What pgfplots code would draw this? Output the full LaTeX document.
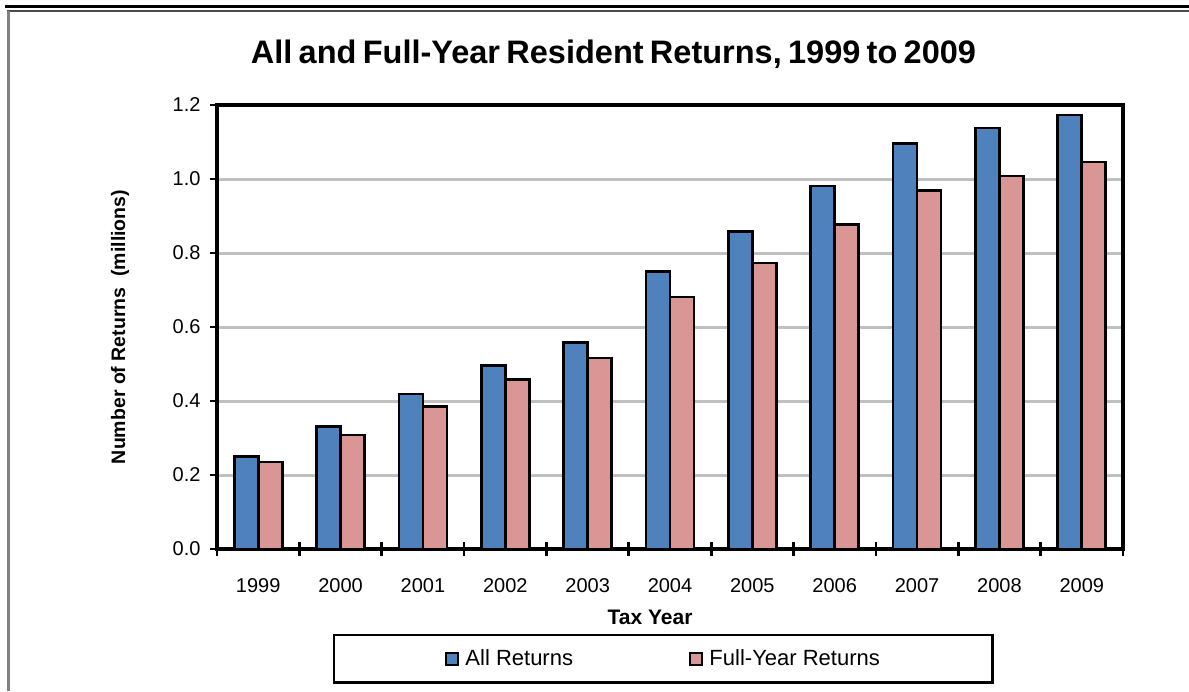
\documentclass[border=0pt]{standalone}
\usepackage{pgfplots}
\pgfplotsset{compat=1.18}
\usepackage{fontspec}
\setmainfont{Liberation Sans}
\newfontfamily\titlefont[WordSpace=0.7]{Liberation Sans}
\definecolor{barblue}{RGB}{79,129,189}
\definecolor{barpink}{RGB}{217,150,148}
\definecolor{gridgray}{RGB}{192,192,192}
\begin{document}
\begin{tikzpicture}
\path[use as bounding box] (0pt,0pt) rectangle (1189pt,-691pt);
\fill[white] (0pt,0pt) rectangle (1189pt,-691pt);
\draw[black, line width=3pt] (5pt,-6.5pt) -- (1189pt,-6.5pt);
\draw[black!70, line width=2.5pt] (7pt,-11pt) -- (1189pt,-11pt);
\draw[gray, line width=2.5pt] (8.5pt,-11pt) -- (8.5pt,-691pt);
\begin{axis}[
  at={(217pt,-549pt)}, anchor=south west,
  scale only axis, width=906pt, height=444pt,
  xmin=-0.5, xmax=10.5, ymin=0, ymax=1.2,
  ybar, bar width=24pt,
  ytick={0,0.2,0.4,0.6,0.8,1.0,1.2},
  ymajorgrids, major grid style={gridgray, line width=3pt},
  axis line style={black, line width=3.2pt},
  xtick pos=left, ytick pos=left,
  tick align=outside, major tick length=7pt,
  ytick style={black, line width=2.8pt},
  xtick={0,1,2,3,4,5,6,7,8,9,10},
  xticklabels={1999,2000,2001,2002,2003,2004,2005,2006,2007,2008,2009},
  xtick style={draw=none},
  extra x ticks={-0.5,0.5,1.5,2.5,3.5,4.5,5.5,6.5,7.5,8.5,9.5,10.5},
  extra x tick labels={},
  extra x tick style={tick align=center, major tick length=14pt, xtick style={draw=black, line width=2.8pt}, grid=none},
  /pgf/number format/.cd, fixed, fixed zerofill, precision=1, assume math mode=true, /pgfplots/.cd,
  ticklabel style={font=\fontsize{20}{24}\selectfont},
  xticklabel style={anchor=center, yshift=-30pt},
  yticklabel style={anchor=east, xshift=-6pt},
  title={All and Full-Year Resident Returns, 1999 to 2009},
  title style={font=\titlefont\fontsize{32.5}{38}\selectfont\bfseries, at={(axis description cs:0.4376,1.1014)}, anchor=center},
  xlabel={Tax Year},
  xlabel style={font=\fontsize{21}{24}\selectfont\bfseries, at={(axis description cs:0.478,-0.153)}, anchor=center},
  ylabel={Number of Returns \ (millions)},
  ylabel style={font=\fontsize{19.5}{22}\selectfont\bfseries, at={(axis description cs:-0.107,0.5)}, anchor=center, rotate=0},
  legend columns=2,
  legend style={at={(axis description cs:0.4928,-0.247)}, anchor=center, draw=black, line width=2.8pt,
    inner xsep=111pt, inner ysep=13pt, font=\fontsize{22}{26}\selectfont,
    /tikz/every even column/.append style={column sep=114pt}},
  legend image code/.code={\draw[#1, line width=2pt] (0pt,-6pt) rectangle (12pt,6pt); \path (16pt,0pt);},
]
\addplot[fill=barblue, draw=black, line width=2.8pt, bar shift=-12pt] coordinates {
(0,0.251) (1,0.332) (2,0.419) (3,0.495) (4,0.559) (5,0.749) (6,0.859) (7,0.981) (8,1.095) (9,1.138) (10,1.173)};
\addlegendentry{All Returns}
\addplot[fill=barpink, draw=black, line width=2.8pt, bar shift=12pt] coordinates {
(0,0.235) (1,0.308) (2,0.386) (3,0.459) (4,0.516) (5,0.681) (6,0.773) (7,0.878) (8,0.970) (9,1.008) (10,1.046)};
\addlegendentry{Full-Year Returns}
\end{axis}
\end{tikzpicture}
\end{document}
